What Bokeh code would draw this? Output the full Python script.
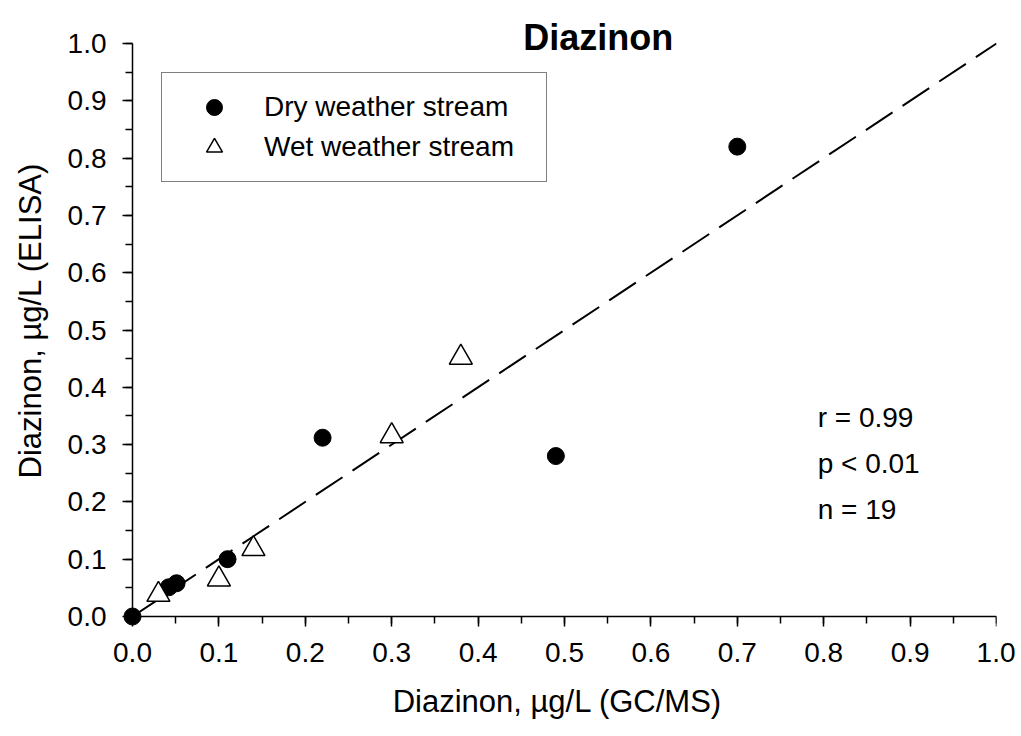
from bokeh.plotting import figure
from bokeh.models import (Range1d, SingleIntervalTicker, Label, Legend, LegendItem,
                          ColumnDataSource, PrintfTickFormatter, LinearAxis)
from bokeh.embed import file_html
from bokeh.resources import INLINE

# ---- data ----
title_text = "Diazinon"
x_label = "Diazinon, µg/L (GC/MS)"
y_label = "Diazinon, µg/L (ELISA)"

dry_label = "Dry weather stream"
dry_x = [0.0, 0.042, 0.051, 0.11, 0.22, 0.49, 0.70]
dry_y = [0.0, 0.051, 0.058, 0.10, 0.312, 0.28, 0.82]

wet_label = "Wet weather stream"
wet_x = [0.03, 0.10, 0.14, 0.30, 0.38]
wet_y = [0.038, 0.065, 0.118, 0.315, 0.452]

ref_x = [0.0, 1.0]
ref_y = [0.0, 1.0]

stats = ["r = 0.99", "p < 0.01", "n = 19"]

FONT = "Liberation Sans"

# layout (pixels); the axes sit at data 0 with a little room around the origin marker
W, H = 1015, 730
X0_PX, X1_PX = 132, 996          # pixel of x = 0 and x = 1
Y0_PX, Y1_PX = 616, 43           # pixel of y = 0 and y = 1
PAD = 14                         # frame room beyond the origin
TOP = 10
ux = (X1_PX - X0_PX)
uy = (Y0_PX - Y1_PX)
x_start = -PAD / ux
y_start = -PAD / uy
y_end = (Y0_PX - TOP) / uy

p = figure(width=W, height=H, output_backend="svg", toolbar_location=None,
           x_range=Range1d(x_start, 1), y_range=Range1d(y_start, y_end),
           min_border_left=X0_PX - PAD, min_border_right=W - X1_PX,
           min_border_top=TOP, min_border_bottom=H - (Y0_PX + PAD))
p.outline_line_color = None
p.xgrid.visible = False
p.ygrid.visible = False
p.background_fill_color = "white"
p.border_fill_color = "white"

# axis lines and ticks at data 0
for ax in (p.xaxis[0], p.yaxis[0]):
    ax.fixed_location = 0
    ax.ticker = SingleIntervalTicker(interval=0.1, num_minor_ticks=2)
    ax.formatter = PrintfTickFormatter(format="%.1f")
    ax.bounds = (0, 1)
    ax.major_tick_in = 0
    ax.major_tick_out = 10
    ax.minor_tick_in = 0
    ax.minor_tick_out = 7
    ax.axis_line_width = 1.5
    ax.major_tick_line_width = 1.5
    ax.minor_tick_line_width = 1.5
    ax.axis_line_color = "black"
    ax.major_tick_line_color = "black"
    ax.minor_tick_line_color = "black"
    ax.major_label_text_font_size = "0px"
    ax.major_label_text_alpha = 0

# tick labels and titles in the side panels
lab_axes = {}
for side in ("left", "below"):
    la = LinearAxis(ticker=SingleIntervalTicker(interval=0.1, num_minor_ticks=2),
                    formatter=PrintfTickFormatter(format="%.1f"), bounds=(0, 1),
                    axis_line_color=None, major_tick_line_color=None, minor_tick_line_color=None,
                    major_tick_in=0, major_tick_out=0, minor_tick_in=0, minor_tick_out=0,
                    major_label_text_font=FONT, major_label_text_font_size="28px",
                    major_label_text_color="black", major_label_standoff=12,
                    axis_label_text_font=FONT, axis_label_text_font_size="31px",
                    axis_label_text_font_style="normal", axis_label_text_color="black")
    p.add_layout(la, side)
    lab_axes[side] = la

lab_axes["below"].axis_label = x_label
lab_axes["below"].axis_label_standoff = 19
lab_axes["left"].axis_label = y_label
lab_axes["left"].axis_label_standoff = 17

src_dry = ColumnDataSource(dict(x=dry_x, y=dry_y))
src_wet = ColumnDataSource(dict(x=wet_x, y=wet_y))

p.line(ref_x, ref_y, line_color="black", line_width=2, line_dash="32 12")
r_dry = p.scatter("x", "y", source=src_dry, marker="circle", size=17,
                  fill_color="black", line_color="black", line_width=1)
r_wet = p.scatter("x", "y", source=src_wet, marker="triangle", size=23,
                  fill_color="white", line_color="black", line_width=1.5)

legend = Legend(items=[LegendItem(label=dry_label, renderers=[r_dry]),
                       LegendItem(label=wet_label, renderers=[r_wet])],
                location=(29 + PAD, 434 + PAD), orientation="vertical",
                glyph_width=76, glyph_height=40, label_height=40,
                spacing=0, padding=14, margin=0, label_standoff=12, label_width=268,
                label_text_font=FONT, label_text_font_size="28px", label_text_color="black",
                border_line_color="black", border_line_width=1,
                background_fill_color="white", background_fill_alpha=1)
p.add_layout(legend)

p.add_layout(Label(x=0.539, y=1.01, text=title_text,
                   text_font=FONT, text_font_size="36px", text_font_style="bold",
                   text_align="center", text_baseline="alphabetic", text_color="black"))

stat_y0 = 0.347
stat_dy = 0.080
for i, s in enumerate(stats):
    p.add_layout(Label(x=0.793, y=stat_y0 - i * stat_dy, text=s,
                       text_font=FONT, text_font_size="28px",
                       text_align="left", text_baseline="alphabetic", text_color="black"))

open("out.html", "w").write(file_html(p, INLINE))
